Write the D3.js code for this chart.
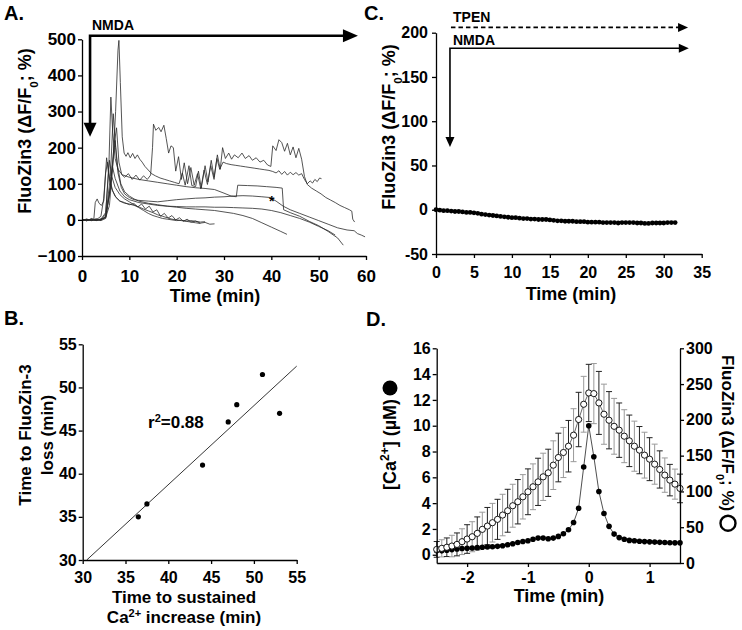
<!DOCTYPE html>
<html>
<head>
<meta charset="utf-8">
<script src="https://cdn.jsdelivr.net/npm/d3@7"></script>
<style>
  body { margin: 0; background: #fff; }
  svg text { font-family: "Liberation Sans", Arial, sans-serif; font-weight: bold; fill: #000; }
</style>
</head>
<body>
<svg id="fig" width="742" height="630"></svg>
<script>
// ---- Panel A: single-cell FluoZin3 traces (time min, dF/F0 %)
const traceA1 = [[0,2],[1,-3],[2,4],[3,-2],[4,1],[5,6],[5.8,40],[6.5,150],[7.1,300],[7.6,470],[7.8,497],[8.1,380],[8.5,230],[8.9,185],[9.3,176],[9.7,186],[10.2,172],[10.7,184],[11.2,170],[11.7,180],[12.2,168],[12.7,160],[13.3,148],[14,138],[14.7,128],[15.5,122],[16.5,116],[17.5,112],[18.5,108],[19.5,104],[20.5,100],[21.2,130],[21.8,96],[22.6,150],[23.2,95],[24,92],[24.6,135],[25.2,88],[26,150],[26.6,105],[27.3,165],[27.9,118],[28.6,180],[29.2,140],[29.7,200],[30.3,170],[31,185],[31.6,168],[32.2,180],[33,172],[33.8,185],[34.5,170],[35.3,178],[36,165],[36.8,172],[37.6,160],[38.4,165],[39.2,152],[39.9,148],[40.3,205],[41,192],[41.6,222],[42.2,214],[42.8,190],[43.4,212],[44,180],[44.6,202],[45.2,172],[45.8,198],[46.4,168],[47,120],[47.6,98],[48.5,88],[49.5,80],[50.5,72],[51.5,62],[52.5,55],[53.5,48],[54.5,40],[55.5,34],[56.5,28],[57,24],[57.2,2],[57.6,-6]];
const traceA2 = [[0,-2],[1,2],[2,-1],[3,3],[4,-2],[5,4],[6,90],[6.8,210],[7.3,255],[7.8,160],[8.4,125],[9,118],[9.8,128],[10.6,112],[11.4,124],[12.2,110],[13,122],[13.8,112],[14.5,124],[14.9,200],[15.1,265],[15.6,248],[16.2,256],[16.7,244],[17.3,262],[17.8,225],[18.3,185],[18.8,205],[19.3,200],[19.8,135],[20.4,175],[21,112],[21.6,158],[22.3,100],[23,145],[23.7,96],[24.4,128],[25.1,86],[25.8,138],[26.5,98],[27.2,150],[27.9,112],[28.5,170],[29.1,140],[29.8,160],[30.5,156],[31.5,153],[32.5,151],[33.5,149],[34.5,147],[35.5,145],[36.5,143],[37.5,141],[38.5,139],[39.5,137],[40.3,134],[41,130],[41.6,136],[42.2,126],[42.8,134],[43.4,124],[44,132],[44.6,125],[45.2,131],[45.8,124],[46.4,128],[47,112],[47.6,100],[48.2,108],[48.7,102],[49.2,112],[49.7,106],[50.2,116],[50.6,114]];
const traceA3 = [[0,1],[1,-2],[2,2],[3,-1],[4,0],[5,15],[5.7,160],[6.1,340],[6.5,240],[7,170],[7.6,140],[8.5,125],[10,118],[12,112],[14,108],[16,104],[18,100],[20,96],[22,92],[24,89],[26,87],[28,84],[30,74],[31.5,66],[32.6,64],[32.9,96],[35,95],[37,94],[39,92],[41,90],[42.3,88],[42.6,28],[44,20],[46,10],[48,-4],[50,-16],[52,-32],[54,-50],[55.2,-70]];
const traceA4 = [[0,-1],[1,1],[2,-2],[3,2],[4,0],[5,8],[6,120],[6.6,294],[7.1,200],[7.6,130],[8.3,90],[9,72],[10,62],[11,56],[12,54],[14,52],[16,50],[18,53],[20,56],[22,58],[24,60],[26,61],[28,63],[30,64],[32,66],[34,67],[36,66],[38,64],[39.7,62],[41,52],[42.5,38],[44,28],[46,18],[48,8],[50,-2],[52,-12],[54,-22],[56,-28],[57.5,-30],[58.2,-38],[59,-42],[59.8,-47]];
const traceA5 = [[0,0],[1,-2],[2,2],[3,0],[4,10],[4.6,60],[5.2,172],[5.7,120],[6.3,85],[7,65],[8,52],[9,46],[10,44],[11,40],[12,36],[13,30],[14,25],[15,20],[16,14],[17,10],[18,6],[19,2],[20,0],[21,-2],[22,-4],[23,-6],[24,-8],[25,-10]];
const traceA6 = [[0,-2],[1,1],[2,-1],[2.5,2],[2.8,48],[3.2,58],[3.6,46],[4.1,40],[4.6,52],[5,130],[5.4,160],[5.9,110],[6.5,80],[7.2,62],[8,52],[9,48],[10,42],[11,45],[11.8,36],[12.6,44],[13.4,30],[14.2,38],[15,22],[15.8,28],[16.6,10],[17.4,18],[18.2,5],[19,12],[19.8,0],[20.6,6],[21.4,-4],[22.2,2],[23,-6],[24,-3],[25,-9],[26,-7],[27,-12],[28,-11]];
const traceA7 = [[0,1],[1,-1],[2,0],[3,-2],[4,2],[5,20],[5.8,165],[6.3,120],[7,90],[8,70],[9,58],[10,50],[11,42],[12,34],[13,26],[14,18],[15,12],[16,8],[17,4],[18,2],[19,0],[20,-2],[21,-1],[22,-3],[23,-2],[24,-4],[25,-6],[26,-5]];
const traceA8 = [[0,0],[1,2],[2,-2],[3,1],[4,-1],[5,10],[6,90],[7,220],[7.5,150],[8.2,100],[9,78],[10,66],[11,58],[12,52],[14,46],[16,42],[18,38],[20,35],[22,32],[24,30],[26,28],[28,26],[30,22],[32,18],[34,12],[36,4],[38,-8],[40,-20],[42,-32],[43.3,-40]];
const traceA9 = [[0,-1],[1,0],[2,1],[3,-1],[4,3],[5,6],[5.8,70],[6.4,150],[7,115],[8,80],[9,64],[10,56],[12,48],[14,44],[16,40],[18,38],[20,37],[22,36],[24,36],[26,36],[28,35],[30,35],[32,34],[34,33],[36,32],[38,30],[40,26],[42,20],[44,12],[46,4],[48,-6],[50,-18],[52,-30],[53.5,-42]];
const tracesA = [traceA1, traceA2, traceA3, traceA4, traceA5, traceA6, traceA7, traceA8, traceA9];
const starA = [40.1, 59];
const ticksAx = [0, 10, 20, 30, 40, 50, 60];
const ticksAy = [-100, 0, 100, 200, 300, 400, 500];
// NMDA arrow: applied at t, level and tips in data units
const nmdaA = { t: 1.7, level: 510, endT: 58.3, tipV: 230 };

// ---- Panel B: onset times (min)
const sustainedCa = [36.5, 37.5, 44, 47, 48, 51, 53];
const fluoLoss = [35, 36.5, 41, 46, 48, 51.5, 47];
const ticksB = [30, 35, 40, 45, 50, 55];

// ---- Panel C: TPEN + NMDA mean trace, every 0.5 min
const valuesC = [0,-0.5,-1,-1,-1.5,-2,-2,-2.5,-3,-3,-3.5,-4,-5,-5.5,-6,-6.5,-7,-7.5,-8,-8.5,-9,-9,-9.5,-10,-10,-10.5,-10.5,-11,-11,-11,-11.5,-12,-12.5,-12.5,-13,-13,-13,-13.5,-13.5,-13.5,-14,-14,-14,-14,-14.5,-14.5,-14.5,-14.5,-15,-14.5,-14.5,-14.5,-14.5,-15,-15,-15.5,-15.5,-15,-15,-15,-15,-14.5,-14.5,-14.5];
const timesC = d3.range(valuesC.length).map(i => i * 0.5);
const ticksCx = [0, 5, 10, 15, 20, 25, 30, 35];
const ticksCy = [-50, 0, 50, 100, 150, 200];
const tpenC = { t: 1.97, level: 206, endT: 33.2 };
const nmdaC = { t: 1.84, level: 182.4, endT: 33.3, tipV: 71 };

// ---- Panel D: aligned to Ca2+ peak, 5 s samples
const caValues = [0.30,0.30,0.35,0.40,0.45,0.48,0.50,0.52,0.55,0.58,0.60,0.62,0.65,0.70,0.78,0.85,0.95,1.03,1.08,1.20,1.29,1.29,1.24,1.29,1.42,1.63,1.94,2.50,3.60,6.80,10.0,7.60,4.90,3.20,2.20,1.60,1.33,1.20,1.11,1.08,1.05,1.02,1.00,0.98,0.96,0.95,0.93,0.92,0.92];
const fzValues = [19,20.5,22,23.7,26,29.8,33.5,36.7,41.4,47,51.6,56.3,61,67,73,80,85.6,92.5,99.5,106.5,113.4,120.4,126,136.7,147.4,154.4,163.2,178.6,200.5,221.8,237.6,236.7,223.7,207.9,199.5,191,185.6,177.2,170.7,163.2,157.7,150.7,145.1,138.1,130.7,122.8,115.8,110.2,104.2];
const fzErr = [11,12,13,15,16,18,20,21,23,24,26,27,28,29,30,30,31,31,32,32,33,33,33,34,34,35,36,37,38,39,40,42,44,42,40,39,38,37,36,35,33,32,30,28,26,24,22,21,20];
const timesD = d3.range(caValues.length).map(i => -2.5 + i / 12);
const ticksDx = [-2, -1, 0, 1];
const ticksDl = [0, 2, 4, 6, 8, 10, 12, 14, 16];
const ticksDr = [0, 50, 100, 150, 200, 250, 300];

const svg = d3.select('#fig');
svg.append('rect').attr('width', 742).attr('height', 630).attr('fill', '#fff');

// shared axis look
function styleAxis(g, fs) {
    g.attr('font-family', null).attr('font-size', null);
    g.select('.domain').attr('stroke', '#000').attr('stroke-width', 1.3);
    g.selectAll('.tick line').attr('stroke', '#000').attr('stroke-width', 1.3);
    g.selectAll('.tick text').style('font-size', fs + 'px');
}

function arrowDown(g, x, y, w, h) {
    g.append('path').attr('d', `M${x - w / 2},${y - h} L${x + w / 2},${y - h} L${x},${y} Z`).attr('fill', '#000');
}
function arrowRight(g, x, y, w, h) {
    g.append('path').attr('d', `M${x - w},${y - h / 2} L${x - w},${y + h / 2} L${x},${y} Z`).attr('fill', '#000');
}

// vertical label with optional subscript pieces
function yLabel(parent, x, y, angle, parts, fs) {
    const t = parent.append('text')
        .attr('transform', `translate(${x},${y}) rotate(${angle})`)
        .attr('text-anchor', 'middle')
        .style('font-size', fs + 'px');
    parts.forEach(p => {
        const s = t.append('tspan').text(p.text);
        if (p.sub) s.attr('baseline-shift', 'sub').style('font-size', (fs * 0.65) + 'px');
        if (p.sup) s.attr('baseline-shift', 'super').style('font-size', (fs * 0.65) + 'px');
    });
    return t;
}
const fluoParts = [{ text: 'FluoZin3 (ΔF/F' }, { text: '0', sub: true }, { text: '; %)' }];

// ================= Panel A =================
const xA = d3.scaleLinear().domain([0, 60]).range([82, 366]);
const yA = d3.scaleLinear().domain([-100, 500]).range([256, 39.3]);
const gA = svg.append('g');

const lineA = d3.line().x(d => xA(d[0])).y(d => yA(d[1]));
gA.selectAll('path.trace').data(tracesA).join('path')
    .attr('class', 'trace')
    .attr('d', lineA)
    .attr('fill', 'none')
    .attr('stroke', '#2a2a2a')
    .attr('stroke-width', 0.8);

gA.append('text').attr('x', xA(starA[0])).attr('y', yA(starA[1]) + 7)
    .attr('text-anchor', 'middle').attr('fill', '#000').style('font-size', '14px').text('*');

gA.append('g').attr('transform', 'translate(0,256)')
    .call(d3.axisBottom(xA).tickValues(ticksAx).tickSize(4).tickPadding(10).tickSizeOuter(0))
    .call(g => styleAxis(g, 17));
gA.append('g').attr('transform', 'translate(82,0)')
    .call(d3.axisLeft(yA).tickValues(ticksAy).tickSize(4).tickPadding(2).tickSizeOuter(0))
    .call(g => styleAxis(g, 17));

// NMDA arrow (A)
const aX = xA(nmdaA.t), aY = yA(nmdaA.level);
gA.append('path')
    .attr('d', `M${xA(nmdaA.endT) - 12},${aY} L${aX},${aY} L${aX},${yA(nmdaA.tipV) - 12}`)
    .attr('fill', 'none').attr('stroke', '#000').attr('stroke-width', 2.6);
arrowRight(gA, xA(nmdaA.endT), aY, 15, 13);
arrowDown(gA, aX, yA(nmdaA.tipV), 13, 14);
gA.append('text').attr('x', 92).attr('y', 30).style('font-size', '14px').text('NMDA');

yLabel(gA, 31, 131, -90, fluoParts, 18);
gA.append('text').attr('x', 215).attr('y', 302).attr('text-anchor', 'middle').style('font-size', '18px').text('Time (min)');
svg.append('text').attr('x', 4).attr('y', 20).style('font-size', '20px').text('A.');

// ================= Panel B =================
const xB = d3.scaleLinear().domain([30, 55]).range([82.7, 296.7]);
const yB = d3.scaleLinear().domain([30, 55]).range([560, 344.3]);
const gB = svg.append('g');

// least-squares fit of the points
const mx = d3.mean(sustainedCa), my = d3.mean(fluoLoss);
const slope = d3.sum(sustainedCa, (x, i) => (x - mx) * (fluoLoss[i] - my)) / d3.sum(sustainedCa, x => (x - mx) ** 2);
const icpt = my - slope * mx;
const x0fit = (30 - icpt) / slope;
gB.append('line')
    .attr('x1', xB(x0fit)).attr('y1', yB(30))
    .attr('x2', xB(55)).attr('y2', yB(icpt + slope * 55))
    .attr('stroke', '#000').attr('stroke-width', 0.8);

gB.selectAll('circle').data(sustainedCa).join('circle')
    .attr('cx', d => xB(d)).attr('cy', (d, i) => yB(fluoLoss[i]))
    .attr('r', 2.6).attr('fill', '#000');

gB.append('g').attr('transform', 'translate(0,560)')
    .call(d3.axisBottom(xB).tickValues(ticksB).tickSize(4).tickPadding(8).tickSizeOuter(0))
    .call(g => styleAxis(g, 16));
gB.append('g').attr('transform', 'translate(82.7,0)')
    .call(d3.axisLeft(yB).tickValues(ticksB).tickSize(4).tickPadding(2).tickSizeOuter(0))
    .call(g => styleAxis(g, 16));

const r2 = gB.append('text').attr('x', 148).attr('y', 428).style('font-size', '17px');
r2.append('tspan').text('r');
r2.append('tspan').attr('baseline-shift', 'super').style('font-size', '11px').text('2');
r2.append('tspan').text('=0.88');

yLabel(gB, 31, 435, -90, [{ text: 'Time to FluoZin-3' }], 17);
yLabel(gB, 52.5, 435, -90, [{ text: 'loss (min)' }], 17);
gB.append('text').attr('x', 184).attr('y', 603).attr('text-anchor', 'middle').style('font-size', '17px').text('Time to sustained');
const caLbl = gB.append('text').attr('x', 184).attr('y', 623).attr('text-anchor', 'middle').style('font-size', '17px');
caLbl.append('tspan').text('Ca');
caLbl.append('tspan').attr('baseline-shift', 'super').style('font-size', '11px').text('2+');
caLbl.append('tspan').text(' increase (min)');
svg.append('text').attr('x', 4).attr('y', 325).style('font-size', '20px').text('B.');

// ================= Panel C =================
const xC = d3.scaleLinear().domain([0, 35]).range([436, 701.7]);
const yC = d3.scaleLinear().domain([-50, 200]).range([254, 32.7]);
const gC = svg.append('g');

gC.selectAll('circle').data(valuesC).join('circle')
    .attr('cx', (d, i) => xC(timesC[i])).attr('cy', d => yC(d))
    .attr('r', 2.4).attr('fill', '#000');

gC.append('g').attr('transform', 'translate(0,254)')
    .call(d3.axisBottom(xC).tickValues(ticksCx).tickSize(4).tickPadding(9).tickSizeOuter(0))
    .call(g => styleAxis(g, 16));
gC.append('g').attr('transform', 'translate(436,0)')
    .call(d3.axisLeft(yC).tickValues(ticksCy).tickSize(4).tickPadding(4).tickFormat(d => String(d)).tickSizeOuter(0))
    .call(g => styleAxis(g, 16));

// TPEN (dashed) and NMDA arrows
const tpY = yC(tpenC.level);
gC.append('line').attr('x1', xC(tpenC.t)).attr('y1', tpY).attr('x2', xC(tpenC.endT) - 8).attr('y2', tpY)
    .attr('stroke', '#000').attr('stroke-width', 1.6).attr('stroke-dasharray', '4.5,3');
arrowRight(gC, xC(tpenC.endT), tpY, 10, 9);
const cX = xC(nmdaC.t), cY = yC(nmdaC.level);
gC.append('path')
    .attr('d', `M${xC(nmdaC.endT) - 8},${cY} L${cX},${cY} L${cX},${yC(nmdaC.tipV) - 9}`)
    .attr('fill', 'none').attr('stroke', '#000').attr('stroke-width', 1.6);
arrowRight(gC, xC(nmdaC.endT), cY, 10, 9);
arrowDown(gC, cX, yC(nmdaC.tipV), 9, 10);
gC.append('text').attr('x', 453).attr('y', 22).style('font-size', '14px').text('TPEN');
gC.append('text').attr('x', 453).attr('y', 45).style('font-size', '14px').text('NMDA');

yLabel(gC, 395, 127, -90, fluoParts, 18);
gC.append('text').attr('x', 571).attr('y', 300).attr('text-anchor', 'middle').style('font-size', '18px').text('Time (min)');
svg.append('text').attr('x', 364).attr('y', 20).style('font-size', '20px').text('C.');

// ================= Panel D =================
const xD = d3.scaleLinear().domain([-2.5, 1.5]).range([436.7, 680]);
const yDl = d3.scaleLinear().domain([-0.64, 16]).range([563, 348.3]);
const yDr = d3.scaleLinear().domain([0, 300]).range([563, 348.3]);
const gD = svg.append('g');

// error bars for the FluoZin3 series
const eb = gD.append('g');
fzValues.forEach((v, i) => {
    const x = xD(timesD[i]);
    const col = i % 2 ? '#9a9a9a' : '#222';
    eb.append('line').attr('x1', x).attr('x2', x).attr('y1', yDr(v - fzErr[i])).attr('y2', yDr(v + fzErr[i]))
        .attr('stroke', col).attr('stroke-width', 1);
    [v - fzErr[i], v + fzErr[i]].forEach(e => {
        eb.append('line').attr('x1', x - 3).attr('x2', x + 3).attr('y1', yDr(e)).attr('y2', yDr(e))
            .attr('stroke', col).attr('stroke-width', 1);
    });
});

gD.append('path').datum(fzValues)
    .attr('d', d3.line().x((d, i) => xD(timesD[i])).y(d => yDr(d)))
    .attr('fill', 'none').attr('stroke', '#444').attr('stroke-width', 0.8);
gD.append('path').datum(caValues)
    .attr('d', d3.line().x((d, i) => xD(timesD[i])).y(d => yDl(d)))
    .attr('fill', 'none').attr('stroke', '#222').attr('stroke-width', 0.8);

gD.selectAll('circle.ca').data(caValues).join('circle').attr('class', 'ca')
    .attr('cx', (d, i) => xD(timesD[i])).attr('cy', d => yDl(d))
    .attr('r', 2.8).attr('fill', '#000');
gD.selectAll('circle.fz').data(fzValues).join('circle').attr('class', 'fz')
    .attr('cx', (d, i) => xD(timesD[i])).attr('cy', d => yDr(d))
    .attr('r', 3.1).attr('fill', '#fff').attr('stroke', '#000').attr('stroke-width', 0.9);

gD.append('g').attr('transform', 'translate(0,563)')
    .call(d3.axisBottom(xD).tickValues(ticksDx).tickSize(4).tickPadding(5).tickFormat(d => String(d)).tickSizeOuter(0))
    .call(g => styleAxis(g, 16));
gD.append('g').attr('transform', 'translate(436.7,0)')
    .call(d3.axisLeft(yDl).tickValues(ticksDl).tickSize(4).tickPadding(2).tickSizeOuter(0))
    .call(g => styleAxis(g, 16));
gD.append('g').attr('transform', 'translate(680,0)')
    .call(d3.axisRight(yDr).tickValues(ticksDr).tickSize(4).tickPadding(2).tickSizeOuter(0))
    .call(g => styleAxis(g, 16));

// left label: [Ca2+] (uM) + filled symbol
const lblL = gD.append('text').attr('transform', 'translate(396,490) rotate(-90)').style('font-size', '18px');
lblL.append('tspan').text('[Ca');
lblL.append('tspan').attr('baseline-shift', 'super').style('font-size', '12px').text('2+');
lblL.append('tspan').text('] (µM)');
const lenL = lblL.node().getComputedTextLength();
gD.append('circle').attr('cx', 390).attr('cy', 490 - lenL - 11).attr('r', 7.5).attr('fill', '#000');

// right label: FluoZin3 + open symbol
const lblR = gD.append('text').attr('transform', 'translate(722,355) rotate(90)').style('font-size', '17px');
lblR.append('tspan').text('FluoZin3 (ΔF/F');
lblR.append('tspan').attr('baseline-shift', 'sub').style('font-size', '11px').text('0');
lblR.append('tspan').text('; %)');
const lenR = lblR.node().getComputedTextLength();
gD.append('circle').attr('cx', 728).attr('cy', 355 + lenR + 12).attr('r', 7.5)
    .attr('fill', 'none').attr('stroke', '#000').attr('stroke-width', 2.4);

gD.append('text').attr('x', 559).attr('y', 602).attr('text-anchor', 'middle').style('font-size', '18px').text('Time (min)');
svg.append('text').attr('x', 366).attr('y', 326).style('font-size', '20px').text('D.');
</script>
</body>
</html>
